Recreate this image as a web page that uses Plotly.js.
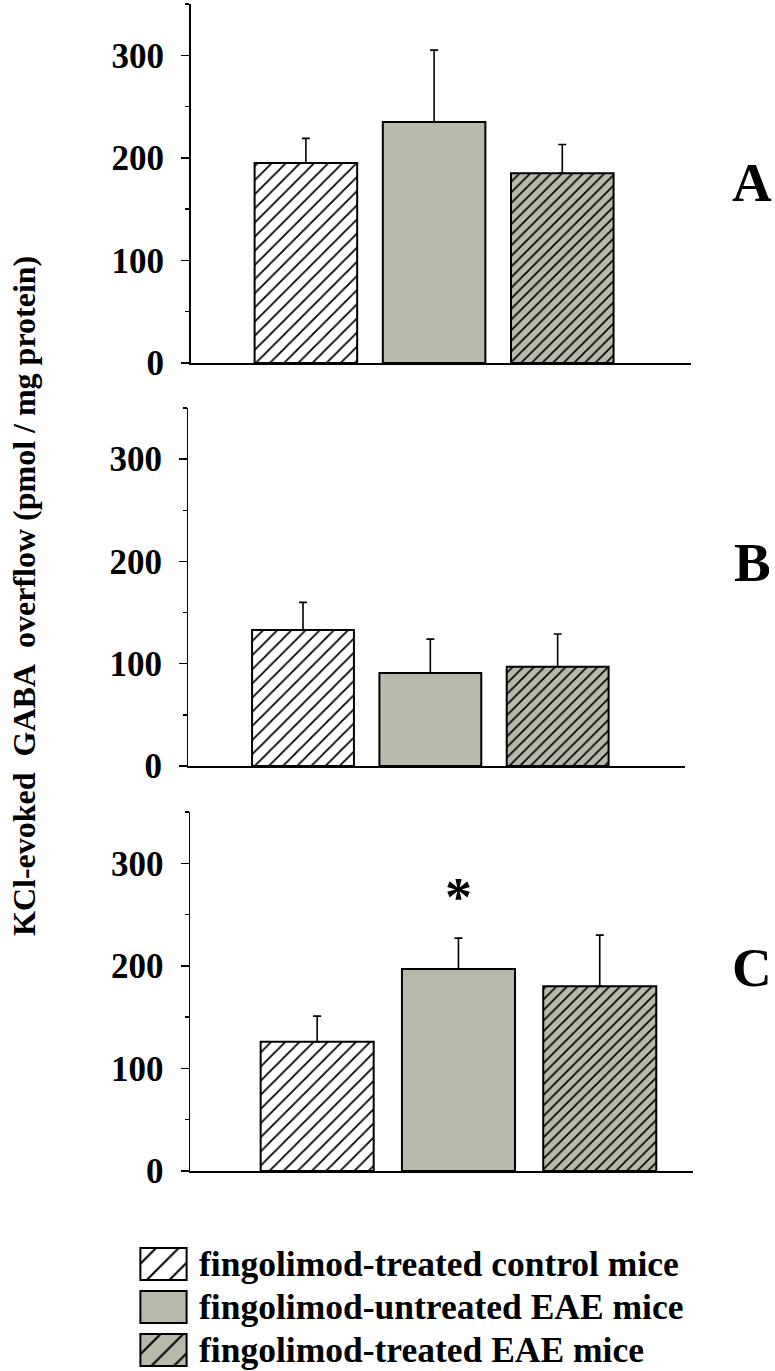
<!DOCTYPE html>
<html>
<head>
<meta charset="utf-8">
<script src="https://cdn.plot.ly/plotly-3.0.1.min.js"></script>
<style>html,body{margin:0;padding:0;background:#fff;}#chart{width:775px;height:1371px;}</style>
</head>
<body>
<div id="chart"></div>
<script>
// ---- data ----
var groups = ['fingolimod-treated control mice', 'fingolimod-untreated EAE mice', 'fingolimod-treated EAE mice'];
var panelLabels = ['A', 'B', 'C'];
var valuesA = [195, 235, 185];
var errorsA = [24, 70, 28];
var valuesB = [133, 91, 97];
var errorsB = [27, 33, 32];
var valuesC = [126, 197, 180];
var errorsC = [25, 30, 50];
var yTickVals = [0, 100, 200, 300];
var yTitle = 'KCl-evoked\u00a0\u00a0GABA\u00a0\u00a0overflow (pmol / mg protein)';
var starGroupIndex = 1;   // significant group in panel C
var starValue = 277;

// ---- styles ----
var GRAY = '#b8b8ab';
var FONT = 'Liberation Serif, Times New Roman, serif';
var groupStyles = [
  {color: '#ffffff', pattern: {shape: '/', size: 10, solidity: 0.18, fgcolor: '#000', bgcolor: '#ffffff', fgopacity: 1}},
  {color: GRAY, pattern: {shape: ''}},
  {color: GRAY, pattern: {shape: '/', size: 7.5, solidity: 0.22, fgcolor: '#000', bgcolor: GRAY, fgopacity: 1}}
];
var legendPatternSize = [16, 0, 16];
var legendSolidity = [0.13, 0, 0.13];

var H = 1371, W = 775;
function py(pix) { return (H - pix) / H; }
function px(pix) { return pix / W; }

var panels = [
  {vals: valuesA, errs: errorsA, xd: [190.5, 690.5], yd: [363, 4], xr: [-0.9, 3.0], lab: 183},
  {vals: valuesB, errs: errorsB, xd: [188.4, 685], yd: [766, 408], xr: [-0.9, 3.0], lab: 562},
  {vals: valuesC, errs: errorsC, xd: [190, 693], yd: [1171, 812], xr: [-0.9, 2.66], lab: 968}
];

var traces = [];
var layout = {
  width: W, height: H,
  margin: {l: 0, r: 0, t: 0, b: 0},
  paper_bgcolor: '#fff', plot_bgcolor: 'rgba(0,0,0,0)',
  showlegend: false, barmode: 'overlay',
  font: {family: FONT, color: '#000', weight: 'bold'},
  annotations: []
};

panels.forEach(function (p, i) {
  var sfx = i === 0 ? '' : String(i + 1);
  groups.forEach(function (g, j) {
    var st = groupStyles[j];
    traces.push({
      type: 'bar',
      x: [g],
      y: [p.vals[j]],
      xaxis: 'x' + sfx, yaxis: 'y' + sfx,
      width: 0.8,
      marker: {
        color: st.color,
        line: {color: '#000', width: 2},
        pattern: st.pattern
      },
      error_y: {type: 'data', symmetric: false, array: [p.errs[j]], arrayminus: [0],
        color: '#000', thickness: 1.6, width: 4},
      hoverinfo: 'none'
    });
  });
  layout['xaxis' + sfx] = {
    domain: [px(p.xd[0]), px(p.xd[1])], anchor: 'y' + sfx, type: 'category',
    categoryorder: 'array', categoryarray: groups,
    range: p.xr, showline: true, linecolor: '#000', linewidth: 1.5,
    ticks: '', showticklabels: false, showgrid: false, zeroline: false, fixedrange: true
  };
  layout['yaxis' + sfx] = {
    domain: [py(p.yd[0]), py(p.yd[1])], anchor: 'x' + sfx,
    range: [0, 350], tickvals: yTickVals, ticks: 'outside', ticklen: 8, tickwidth: 1.5, tickcolor: '#000',
    showline: true, linecolor: '#000', linewidth: 1.5, showgrid: false, zeroline: false,
    ticklabelstandoff: 10,
    tickfont: {family: FONT, size: 35, color: '#000', weight: 'bold'},
    minor: {ticks: 'outside', ticklen: 4, tickwidth: 1.5, tickcolor: '#000', dtick: 50, tick0: 0, showgrid: false},
    fixedrange: true
  };
  layout.annotations.push({
    xref: 'paper', yref: 'paper', x: px(752), y: py(p.lab), xanchor: 'center', yanchor: 'middle',
    text: panelLabels[i], showarrow: false,
    font: {family: FONT, size: 55, color: '#000', weight: 'bold'}
  });
});

// significance star (panel C)
layout.annotations.push({
  xref: 'x3', yref: 'y3', x: starGroupIndex, y: starValue, yshift: -10,
  xanchor: 'center', yanchor: 'middle', text: '*', showarrow: false,
  font: {family: FONT, size: 54, color: '#000', weight: 'bold'}
});

// y-axis title shared by all panels
layout.annotations.push({
  xref: 'paper', yref: 'paper', x: px(24), y: py(596), xanchor: 'center', yanchor: 'middle',
  text: yTitle, textangle: -90, showarrow: false,
  font: {family: FONT, size: 32, color: '#000', weight: 'bold'}
});

// legend drawn as a small horizontal bar chart (keys) + text
groups.forEach(function (g, j) {
  var st = groupStyles[j];
  var pat = st.pattern.shape ? {shape: '/', size: legendPatternSize[j], solidity: legendSolidity[j], fgcolor: '#000', bgcolor: st.color, fgopacity: 1} : {shape: ''};
  traces.push({
    type: 'bar', orientation: 'h',
    y: [g], x: [1],
    xaxis: 'x4', yaxis: 'y4', width: 0.744,
    marker: {color: st.color, line: {color: '#000', width: 2}, pattern: pat},
    hoverinfo: 'none'
  });
  layout.annotations.push({
    xref: 'paper', yref: 'y4', x: px(197), y: j, xanchor: 'left', yanchor: 'middle',
    text: g, showarrow: false,
    font: {family: FONT, size: 35.5, color: '#000', weight: 'bold'}
  });
});
layout.xaxis4 = {domain: [px(139), px(188)], anchor: 'y4', range: [-0.03, 1.03], visible: false, fixedrange: true};
layout.yaxis4 = {domain: [py(1367.2), py(1242.5)], anchor: 'x4', type: 'category',
  categoryorder: 'array', categoryarray: groups, range: [2.4, -0.5], visible: false, fixedrange: true};

Plotly.newPlot('chart', traces, layout, {displayModeBar: false, staticPlot: true});
</script>
</body>
</html>
